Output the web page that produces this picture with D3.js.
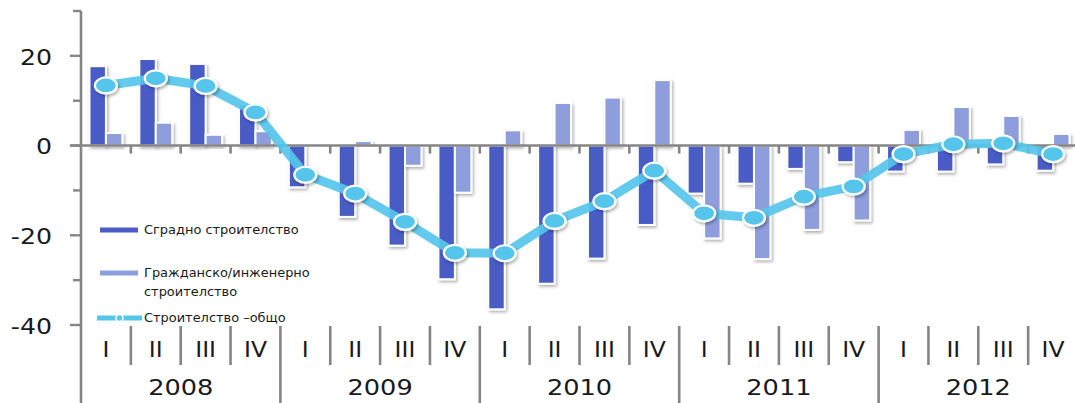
<!DOCTYPE html>
<html>
<head>
<meta charset="utf-8">
<script src="https://cdn.jsdelivr.net/npm/d3@7"></script>
<style>
  html, body { margin: 0; padding: 0; background: #ffffff; }
  svg { display: block; }
  text { font-family: "DejaVu Sans", Verdana, sans-serif; fill: #1a1a1a; }
</style>
</head>
<body>
<svg id="chart" width="1075" height="403"></svg>
<script>
// Quarterly change in construction output, %
const years = ["2008", "2009", "2010", "2011", "2012"];
const quarters = ["I", "II", "III", "IV"];
const seriesNames = ["Сградно строителство", "Гражданско/инженерно строителство", "Строителство –общо"];
const building = [17.7, 19.3, 18.2, 9.2, -9.3, -15.9, -22.3, -29.8, -36.5, -30.8, -25.2, -17.7, -10.7, -8.5, -5.2, -3.7, -5.8, -5.8, -4.2, -5.6];
const civil = [2.8, 5.1, 2.4, 3.2, 0.3, 1.0, -4.5, -10.5, 3.4, 9.5, 10.7, 14.6, -20.7, -25.3, -18.8, -16.7, 3.5, 8.6, 6.6, 2.6];
const total = [13.4, 15.0, 13.3, 7.4, -6.5, -10.7, -17.0, -23.9, -24.0, -16.8, -12.4, -5.6, -15.1, -16.1, -11.4, -9.1, -1.9, 0.3, 0.5, -1.9];
const yTicks = [30, 20, 10, 0, -10, -20, -30, -40];
const yLabels = [20, 0, -20, -40];

const colors = { building: "#4a5cc6", civil: "#8e9edd", total: "#56c5ec", axis: "#858585" };

const periods = [];
years.forEach(y => quarters.forEach(q => periods.push({ year: y, q: q, key: y + "-" + q })));
const rows = periods.map((p, i) => ({ ...p, building: building[i], civil: civil[i], total: total[i] }));

const svg = d3.select("#chart");
const x0 = 81, x1 = 1078;

const x = d3.scaleBand().domain(periods.map(p => p.key)).range([x0, x1])
  .paddingInner(0.34).paddingOuter(0.17);
const xs = d3.scaleBand().domain(["building", "civil"]).range([0, x.bandwidth()]);
const y = d3.scaleLinear().domain([-40, 30]).range([325, 11]);
const step = x.step();
const slotLeft = i => x0 + i * step;

const defs = svg.append("defs");
const sh = defs.append("filter").attr("id", "shadow").attr("x", "-30%").attr("y", "-30%").attr("width", "160%").attr("height", "160%");
sh.append("feDropShadow").attr("dx", 1.5).attr("dy", 2).attr("stdDeviation", 1.6)
  .attr("flood-color", "#000").attr("flood-opacity", 0.3);

// stretched text helper
function label(g, tx, ty, str, size, anchor, sx) {
  return g.append("text")
    .attr("transform", `translate(${tx},${ty}) scale(${sx},1)`)
    .attr("text-anchor", anchor)
    .attr("dominant-baseline", "central")
    .style("font-size", size + "px")
    .text(str);
}

// y axis
const yAxisG = svg.append("g");
yAxisG.append("line").attr("x1", x0).attr("x2", x0).attr("y1", y(30)).attr("y2", 403)
  .attr("stroke", colors.axis).attr("stroke-width", 2.6);
yAxisG.selectAll("line.tick").data(yTicks).join("line").attr("class", "tick")
  .attr("x1", d => yLabels.includes(d) ? x0 - 11 : x0 - 8).attr("x2", x0)
  .attr("y1", d => y(d)).attr("y2", d => y(d))
  .attr("stroke", colors.axis).attr("stroke-width", 2.4);
yLabels.forEach(v => label(svg, 52, y(v) + 1, String(v), 21, "end", 1.2));

// bars
const bars = svg.append("g");
["building", "civil"].forEach(k => {
  bars.selectAll("rect." + k).data(rows).join("rect").attr("class", k)
    .attr("x", d => x(d.key) + xs(k))
    .attr("width", xs.bandwidth())
    .attr("y", d => y(Math.max(0, d[k])))
    .attr("height", d => Math.abs(y(d[k]) - y(0)))
    .attr("fill", colors[k])
    .attr("stroke", "#ffffff").attr("stroke-width", 2)
    .attr("filter", "url(#shadow)");
});

// zero line with quarter ticks
svg.append("line").attr("x1", x0 - 11).attr("x2", 1075).attr("y1", y(0)).attr("y2", y(0))
  .attr("stroke", colors.axis).attr("stroke-width", 2.6);
svg.selectAll("line.qtick").data(d3.range(1, periods.length)).join("line").attr("class", "qtick")
  .attr("x1", i => slotLeft(i)).attr("x2", i => slotLeft(i))
  .attr("y1", y(0)).attr("y2", y(0) + 8)
  .attr("stroke", colors.axis).attr("stroke-width", 2.6);

// total line
const line = d3.line().x(d => x(d.key) + x.bandwidth() / 2).y(d => y(d.total));
svg.append("path").datum(rows).attr("d", line)
  .attr("fill", "none").attr("stroke", colors.total).attr("stroke-width", 9)
  .attr("stroke-linejoin", "round").attr("opacity", 0.92);
svg.selectAll("ellipse.pt").data(rows).join("ellipse").attr("class", "pt")
  .attr("cx", d => x(d.key) + x.bandwidth() / 2).attr("cy", d => y(d.total))
  .attr("rx", 11).attr("ry", 8)
  .attr("fill", colors.total).attr("stroke", "#ffffff").attr("stroke-width", 2.2)
  .attr("filter", "url(#shadow)");

// category axis: quarters and years
const cat = svg.append("g");
cat.selectAll("line.qsep").data(d3.range(1, periods.length).filter(i => i % 4 !== 0)).join("line")
  .attr("class", "qsep")
  .attr("x1", i => slotLeft(i)).attr("x2", i => slotLeft(i)).attr("y1", 326).attr("y2", 365)
  .attr("stroke", colors.axis).attr("stroke-width", 2.6);
cat.selectAll("line.ysep").data(d3.range(1, years.length + 1)).join("line")
  .attr("class", "ysep")
  .attr("x1", i => slotLeft(i * 4)).attr("x2", i => slotLeft(i * 4)).attr("y1", 326).attr("y2", 403)
  .attr("stroke", colors.axis).attr("stroke-width", 2.6);
rows.forEach((d, i) => label(cat, slotLeft(i) + step / 2, 349, d.q, 21, "middle", 1.12));
years.forEach((yr, i) => label(cat, slotLeft(i * 4) + step * 2, 388, yr, 21, "middle", 1.22));

// legend
const lg = svg.append("g");
lg.append("line").attr("x1", 100).attr("x2", 138).attr("y1", 230).attr("y2", 230)
  .attr("stroke", colors.building).attr("stroke-width", 5);
label(lg, 144, 230, seriesNames[0], 12, "start", 1.08);
lg.append("line").attr("x1", 100).attr("x2", 138).attr("y1", 273).attr("y2", 273)
  .attr("stroke", colors.civil).attr("stroke-width", 5);
label(lg, 144, 273, "Гражданско/инженерно", 12, "start", 1.08);
label(lg, 144, 292, "строителство", 12, "start", 1.08);
lg.append("line").attr("x1", 97).attr("x2", 142).attr("y1", 318).attr("y2", 318)
  .attr("stroke", colors.total).attr("stroke-width", 5);
lg.append("circle").attr("cx", 119.5).attr("cy", 318).attr("r", 3.5)
  .attr("fill", colors.total).attr("stroke", "#fff").attr("stroke-width", 1.5);
label(lg, 144, 318, seriesNames[2], 12, "start", 1.08);
</script>
</body>
</html>
